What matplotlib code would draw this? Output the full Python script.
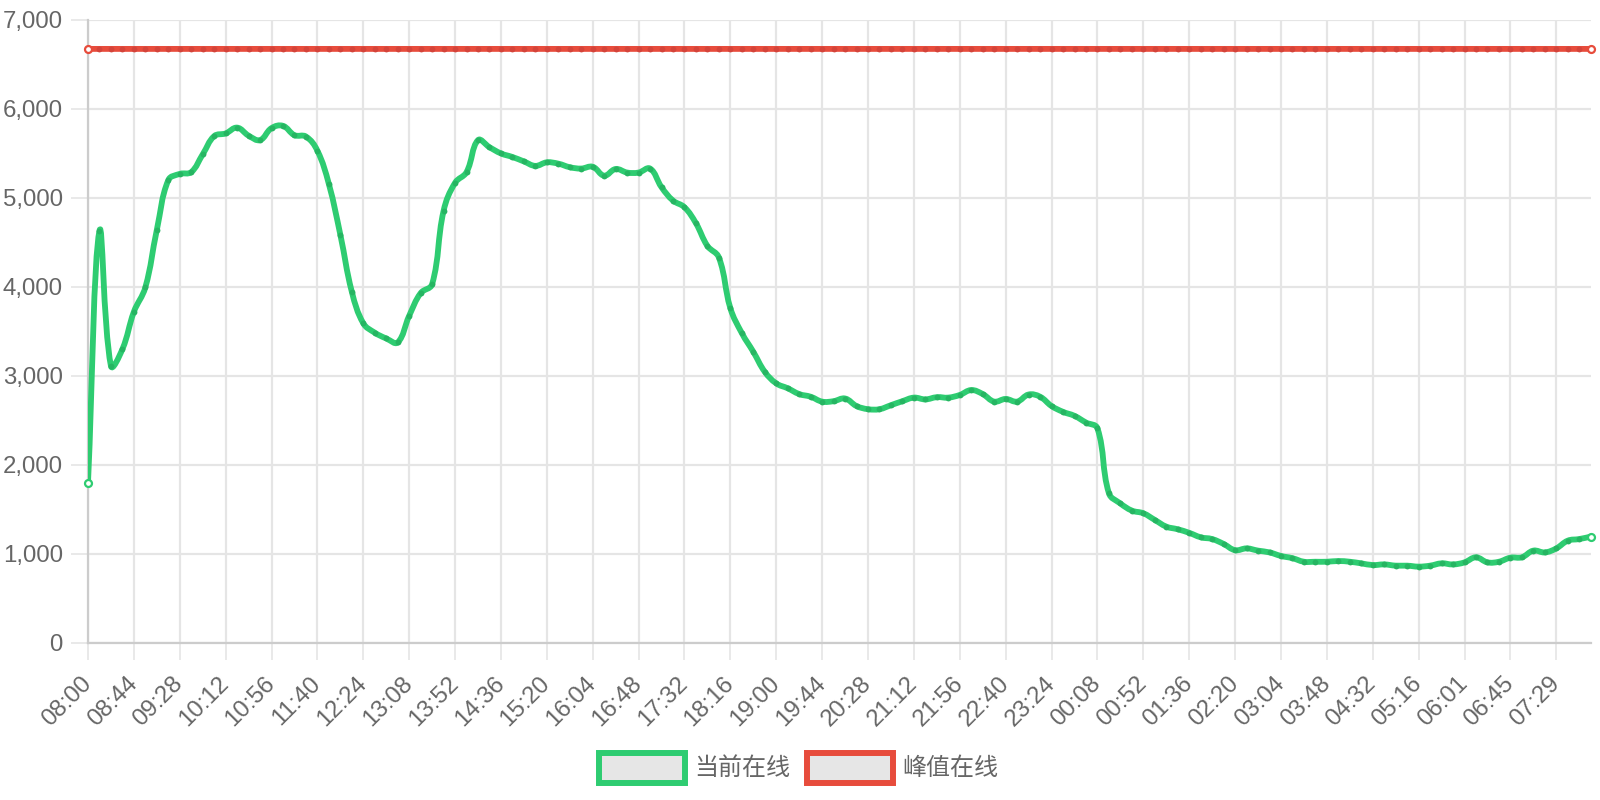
import numpy as np
import matplotlib
matplotlib.use('Agg')
from matplotlib import pyplot as plt
from matplotlib.patches import Rectangle, PathPatch
from matplotlib.path import Path
from matplotlib.ticker import FuncFormatter

# one sample every ~11 minutes, 08:00 -> 08:02 next day
online = [1800, 4630, 3110, 3300, 3720, 3995, 4640, 5200, 5270, 5290,
          5490, 5695, 5725, 5790, 5700, 5650, 5785, 5810, 5705, 5690,
          5530, 5155, 4585, 3945, 3590, 3485, 3420, 3375, 3675, 3930,
          4030, 4855, 5170, 5290, 5650, 5570, 5500, 5460, 5410, 5360,
          5400, 5385, 5345, 5330, 5350, 5250, 5325, 5285, 5285, 5330,
          5120, 4970, 4895, 4715, 4460, 4330, 3760, 3480, 3270, 3045,
          2915, 2860, 2795, 2765, 2710, 2715, 2745, 2660, 2625, 2625,
          2670, 2715, 2755, 2735, 2760, 2755, 2785, 2840, 2795, 2710,
          2740, 2710, 2790, 2765, 2660, 2595, 2550, 2475, 2410, 1680,
          1565, 1485, 1455, 1380, 1305, 1275, 1235, 1185, 1165, 1110,
          1040, 1060, 1035, 1015, 975, 950, 910, 910, 910, 918,
          910, 892, 873, 880, 866, 866, 855, 866, 892, 880,
          903, 960, 903, 910, 956, 960, 1035, 1015, 1060, 1147,
          1165, 1192]
peak = [6675] * len(online)

tick_labels = ['08:00', '08:44', '09:28', '10:12', '10:56', '11:40', '12:24',
               '13:08', '13:52', '14:36', '15:20', '16:04', '16:48', '17:32',
               '18:16', '19:00', '19:44', '20:28', '21:12', '21:56', '22:40',
               '23:24', '00:08', '00:52', '01:36', '02:20', '03:04', '03:48',
               '04:32', '05:16', '06:01', '06:45', '07:29']
series_names = ['当前在线', '峰值在线']

green = '#2ecc71'
red = '#e74c3c'
grid_c = '#e5e5e5'
txt_c = '#666666'
fs = 17.3

plt.rcParams['font.family'] = ['Liberation Sans', 'DejaVu Sans']

fig = plt.figure(figsize=(16, 8), dpi=100)
ax = fig.add_axes([88 / 1600, 1 - 642.7 / 800, (1590.7 - 88) / 1600, (642.7 - 20) / 800])
ax.set_xlim(0, len(online) - 1)
ax.set_ylim(0, 7000)


def smooth_path(xs, ys, t=0.4):
    # bezier through the points, like chart.js lineTension, worked out in pixels
    fig.canvas.draw()
    pts = ax.transData.transform(np.column_stack([xs, ys]))
    n = len(pts)
    cp_prev = np.zeros_like(pts)
    cp_next = np.zeros_like(pts)
    for i in range(n):
        p0 = pts[max(i - 1, 0)]
        p1 = pts[i]
        p2 = pts[min(i + 1, n - 1)]
        d01 = np.hypot(*(p1 - p0))
        d12 = np.hypot(*(p2 - p1))
        tot = d01 + d12
        s01 = d01 / tot if tot else 0
        s12 = d12 / tot if tot else 0
        cp_prev[i] = p1 - t * s01 * (p2 - p0)
        cp_next[i] = p1 + t * s12 * (p2 - p0)
    verts = [pts[0]]
    codes = [Path.MOVETO]
    for i in range(n - 1):
        verts += [cp_next[i], cp_prev[i + 1], pts[i + 1]]
        codes += [Path.CURVE4] * 3
    verts = ax.transData.inverted().transform(np.array(verts))
    return Path(verts, codes)


x = np.arange(len(online))
for s, c, dot, z in [(peak, red, '#d4443a', 3), (online, green, '#26b562', 5)]:
    ax.add_patch(PathPatch(smooth_path(x, s), facecolor='none', edgecolor=c,
                           lw=4.2, zorder=z, capstyle='round', joinstyle='round'))
    ax.plot(x[1:-1], s[1:-1], 'o', ms=4.2, color=dot, mec='none', zorder=z + 0.5)
    ax.plot([x[0], x[-1]], [s[0], s[-1]], 'o', ms=5, mfc='white', mec=c, mew=1.6,
            zorder=7, clip_on=False)

ax.set_yticks(range(0, 7001, 1000))
ax.yaxis.set_major_formatter(FuncFormatter(lambda v, p: f'{int(v):,}'))
ax.set_xticks(x[::4][:len(tick_labels)])
ax.set_xticklabels(tick_labels, rotation=45, ha='right', va='center', rotation_mode='anchor')

ax.grid(True, color=grid_c, lw=1.6, zorder=0)
ax.set_axisbelow(True)
for sp in ['top', 'right']:
    ax.spines[sp].set_visible(False)
for sp in ['left', 'bottom']:
    ax.spines[sp].set_color('#cccccc')
    ax.spines[sp].set_linewidth(1.6)
ax.tick_params(axis='both', length=12, width=1.2, color=grid_c, labelcolor=txt_c, labelsize=fs)
ax.tick_params(axis='y', pad=6)
ax.tick_params(axis='x', pad=15)

# legend along the bottom
boxes = [(599, green), (807, red)]
for (bx, c), name in zip(boxes, series_names):
    fig.add_artist(Rectangle((bx / 1600, 1 - 782.7 / 800), 86 / 1600, 29.4 / 800,
                             transform=fig.transFigure, facecolor='#e6e6e6',
                             edgecolor=c, lw=4.3))
    fig.text((bx + 95) / 1600, 1 - 768 / 800, name, color=txt_c, fontsize=fs,
             va='center', ha='left', family=['Noto Sans CJK SC', 'DejaVu Sans'])

fig.savefig('out.png', dpi=100)
